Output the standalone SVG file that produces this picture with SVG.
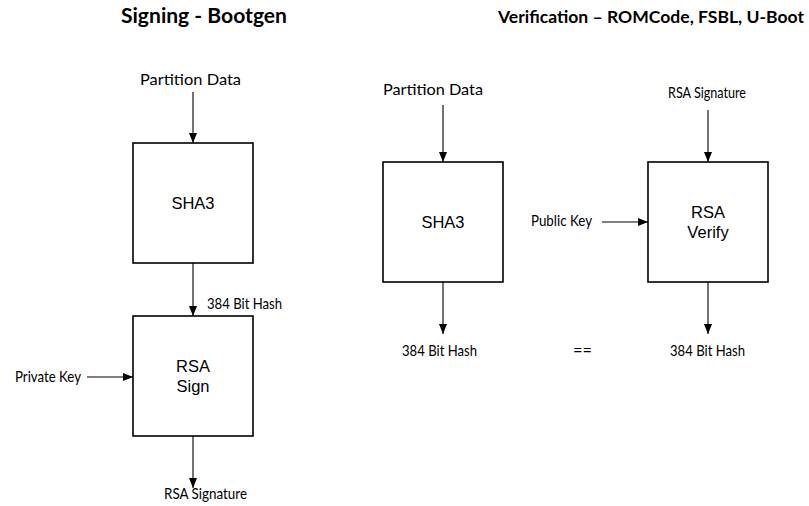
<svg xmlns="http://www.w3.org/2000/svg" width="809" height="506" viewBox="0 0 809 506">
<style>
.title{font-family:Lato,"Open Sans","Liberation Sans",sans-serif;font-weight:bold;font-size:21px;fill:#000}
.lbl{font-family:Lato,"Open Sans","Liberation Sans",sans-serif;font-size:15px;fill:#000}
.box{fill:#fff;stroke:#000;stroke-width:1.6}
.bt{font-family:"Liberation Sans",Arial,sans-serif;font-size:16.5px;fill:#000;text-anchor:middle}
.con{stroke:#000;stroke-width:1.1;fill:none;marker-end:url(#ah)}
</style>
<defs>
<marker id="ah" markerUnits="userSpaceOnUse" markerWidth="10" markerHeight="8" refX="10" refY="4" orient="auto">
<path d="M0,0 L10,4 L0,8 z" fill="#000"/>
</marker>
</defs>
<rect width="809" height="506" fill="#fff"/>
<text class="title" x="121" y="23" textLength="166" lengthAdjust="spacingAndGlyphs">Signing - Bootgen</text>
<text class="title" x="498" y="23" style="font-size:17.5px" textLength="306" lengthAdjust="spacingAndGlyphs">Verification – ROMCode, FSBL, U-Boot</text>

<g id="labels">
<text class="lbl" x="140" y="85" textLength="101" lengthAdjust="spacingAndGlyphs">Partition Data</text>
<text class="lbl" x="207" y="309" textLength="75" lengthAdjust="spacingAndGlyphs">384 Bit Hash</text>
<text class="lbl" x="15" y="382" textLength="66" lengthAdjust="spacingAndGlyphs">Private Key</text>
<text class="lbl" x="164" y="499" textLength="83" lengthAdjust="spacingAndGlyphs">RSA Signature</text>
<text class="lbl" x="383" y="95" textLength="100" lengthAdjust="spacingAndGlyphs">Partition Data</text>
<text class="lbl" x="668" y="98" textLength="78" lengthAdjust="spacingAndGlyphs">RSA Signature</text>
<text class="lbl" x="531" y="226" textLength="61" lengthAdjust="spacingAndGlyphs">Public Key</text>
<text class="lbl" x="402" y="356" textLength="75" lengthAdjust="spacingAndGlyphs">384 Bit Hash</text>
<text class="lbl" x="573" y="356" textLength="19" lengthAdjust="spacingAndGlyphs">==</text>
<text class="lbl" x="670" y="356" textLength="75" lengthAdjust="spacingAndGlyphs">384 Bit Hash</text>
</g>

<g id="sha3-sign">
<rect class="box" x="133" y="143" width="120" height="120"/>
<text class="bt" x="193" y="209">SHA3</text>
</g>
<g id="rsa-sign">
<rect class="box" x="133" y="316" width="120" height="120"/>
<text class="bt" x="193" y="372">RSA</text>
<text class="bt" x="193" y="392">Sign</text>
</g>
<g id="sha3-verify">
<rect class="box" x="383" y="162" width="120" height="120"/>
<text class="bt" x="443" y="228">SHA3</text>
</g>
<g id="rsa-verify">
<rect class="box" x="648" y="162" width="120" height="120"/>
<text class="bt" x="708" y="218">RSA</text>
<text class="bt" x="708" y="238">Verify</text>
</g>

<g id="connectors">
<line class="con" x1="193" y1="92" x2="193" y2="143"/>
<line class="con" x1="193" y1="263" x2="193" y2="316"/>
<line class="con" x1="87" y1="377" x2="133" y2="377"/>
<line class="con" x1="193" y1="436" x2="193" y2="488"/>
<line class="con" x1="443" y1="105" x2="443" y2="162"/>
<line class="con" x1="708" y1="110" x2="708" y2="162"/>
<line class="con" x1="602" y1="222" x2="648" y2="222"/>
<line class="con" x1="443" y1="282" x2="443" y2="334"/>
<line class="con" x1="708" y1="282" x2="708" y2="334"/>
</g>
</svg>
